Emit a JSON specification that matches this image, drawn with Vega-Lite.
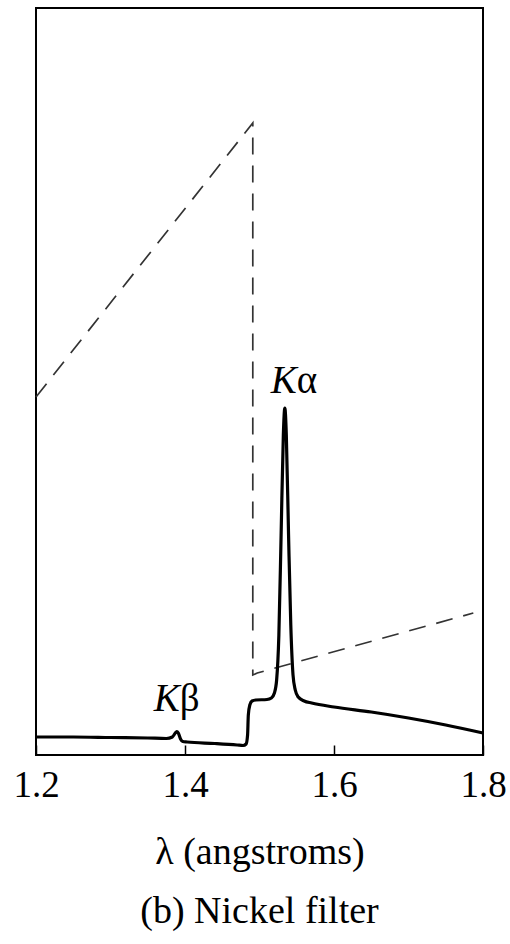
{
  "$schema": "https://vega.github.io/schema/vega-lite/v6.json",
  "width": 447,
  "height": 747,
  "autosize": {"type": "none"},
  "padding": {"left": 36, "top": 8, "right": 27, "bottom": 189},
  "background": "white",
  "config": {
    "view": {"stroke": "black", "strokeWidth": 2},
    "font": "Liberation Serif"
  },
  "title": {
    "text": "(b) Nickel filter",
    "orient": "bottom",
    "font": "Liberation Serif",
    "fontSize": 38,
    "fontWeight": "normal",
    "color": "black",
    "offset": 22
  },
  "datasets": {
    "filtered": [
      {"i": 1, "lam": 1.2, "v": 18},
      {"i": 2, "lam": 1.25, "v": 18},
      {"i": 3, "lam": 1.3, "v": 17.5},
      {"i": 4, "lam": 1.35, "v": 17},
      {"i": 5, "lam": 1.375, "v": 16.5},
      {"i": 6, "lam": 1.383, "v": 18},
      {"i": 7, "lam": 1.387, "v": 22},
      {"i": 8, "lam": 1.389, "v": 23.5},
      {"i": 9, "lam": 1.391, "v": 22},
      {"i": 10, "lam": 1.394, "v": 16},
      {"i": 11, "lam": 1.397, "v": 13.5},
      {"i": 12, "lam": 1.403, "v": 13},
      {"i": 13, "lam": 1.44, "v": 11.5},
      {"i": 14, "lam": 1.47, "v": 10},
      {"i": 15, "lam": 1.478, "v": 9.5},
      {"i": 16, "lam": 1.482, "v": 11},
      {"i": 17, "lam": 1.484, "v": 20},
      {"i": 18, "lam": 1.485, "v": 40},
      {"i": 19, "lam": 1.487, "v": 50},
      {"i": 20, "lam": 1.49, "v": 54},
      {"i": 21, "lam": 1.495, "v": 55},
      {"i": 22, "lam": 1.51, "v": 55.5},
      {"i": 23, "lam": 1.516, "v": 57},
      {"i": 24, "lam": 1.52, "v": 62},
      {"i": 25, "lam": 1.523, "v": 75},
      {"i": 26, "lam": 1.526, "v": 120},
      {"i": 27, "lam": 1.529, "v": 220},
      {"i": 28, "lam": 1.532, "v": 320},
      {"i": 29, "lam": 1.534, "v": 347},
      {"i": 30, "lam": 1.536, "v": 320},
      {"i": 31, "lam": 1.539, "v": 220},
      {"i": 32, "lam": 1.542, "v": 130},
      {"i": 33, "lam": 1.545, "v": 80},
      {"i": 34, "lam": 1.548, "v": 65},
      {"i": 35, "lam": 1.552, "v": 58},
      {"i": 36, "lam": 1.56, "v": 54},
      {"i": 37, "lam": 1.57, "v": 52},
      {"i": 38, "lam": 1.6, "v": 48},
      {"i": 39, "lam": 1.65, "v": 43},
      {"i": 40, "lam": 1.7, "v": 37},
      {"i": 41, "lam": 1.75, "v": 30},
      {"i": 42, "lam": 1.8, "v": 22}
    ],
    "absorption": [
      {"i": 1, "lam": 1.2, "v": 358},
      {"i": 2, "lam": 1.491, "v": 632},
      {"i": 3, "lam": 1.491, "v": 80},
      {"i": 4, "lam": 1.497, "v": 82},
      {"i": 5, "lam": 1.787, "v": 142}
    ],
    "labels": [
      {"lam": 1.55, "v": 362, "k": "K", "g": "α"},
      {"lam": 1.393, "v": 44, "k": "K", "g": "β"}
    ]
  },
  "layer": [
    {
      "data": {"name": "absorption"},
      "mark": {"type": "line", "color": "#333333", "strokeWidth": 1.7, "strokeDash": [17, 11]},
      "encoding": {
        "x": {
          "field": "lam",
          "type": "quantitative",
          "scale": {"domain": [1.2, 1.8], "nice": false, "zero": false},
          "axis": {
            "values": [1.2, 1.4, 1.6, 1.8],
            "format": ".1f",
            "tickSize": -10,
            "tickColor": "black",
            "tickWidth": 1.5,
            "domain": false,
            "grid": false,
            "labelFlush": false,
            "labelOverlap": false,
            "labelBound": false,
            "labelFont": "Liberation Serif",
            "labelFontSize": 37,
            "labelColor": "black",
            "labelPadding": 22,
            "title": "λ (angstroms)",
            "titleFont": "Liberation Serif",
            "titleFontSize": 38,
            "titleFontWeight": "normal",
            "titleColor": "black",
            "titlePadding": 30
          }
        },
        "y": {
          "field": "v",
          "type": "quantitative",
          "scale": {"domain": [0, 747], "nice": false},
          "axis": null
        },
        "order": {"field": "i", "type": "quantitative"}
      }
    },
    {
      "data": {"name": "filtered"},
      "mark": {"type": "line", "color": "black", "strokeWidth": 3.2, "strokeJoin": "round", "interpolate": "monotone"},
      "encoding": {
        "x": {"field": "lam", "type": "quantitative"},
        "y": {"field": "v", "type": "quantitative"},
        "order": {"field": "i", "type": "quantitative"}
      }
    },
    {
      "data": {"name": "labels"},
      "mark": {"type": "text", "font": "Liberation Serif", "fontSize": 39, "fontStyle": "italic", "align": "right", "baseline": "alphabetic", "color": "black"},
      "encoding": {
        "x": {"field": "lam", "type": "quantitative"},
        "y": {"field": "v", "type": "quantitative"},
        "text": {"field": "k"}
      }
    },
    {
      "data": {"name": "labels"},
      "mark": {"type": "text", "font": "Liberation Serif", "fontSize": 39, "align": "left", "baseline": "alphabetic", "color": "black"},
      "encoding": {
        "x": {"field": "lam", "type": "quantitative"},
        "y": {"field": "v", "type": "quantitative"},
        "text": {"field": "g"}
      }
    }
  ]
}
